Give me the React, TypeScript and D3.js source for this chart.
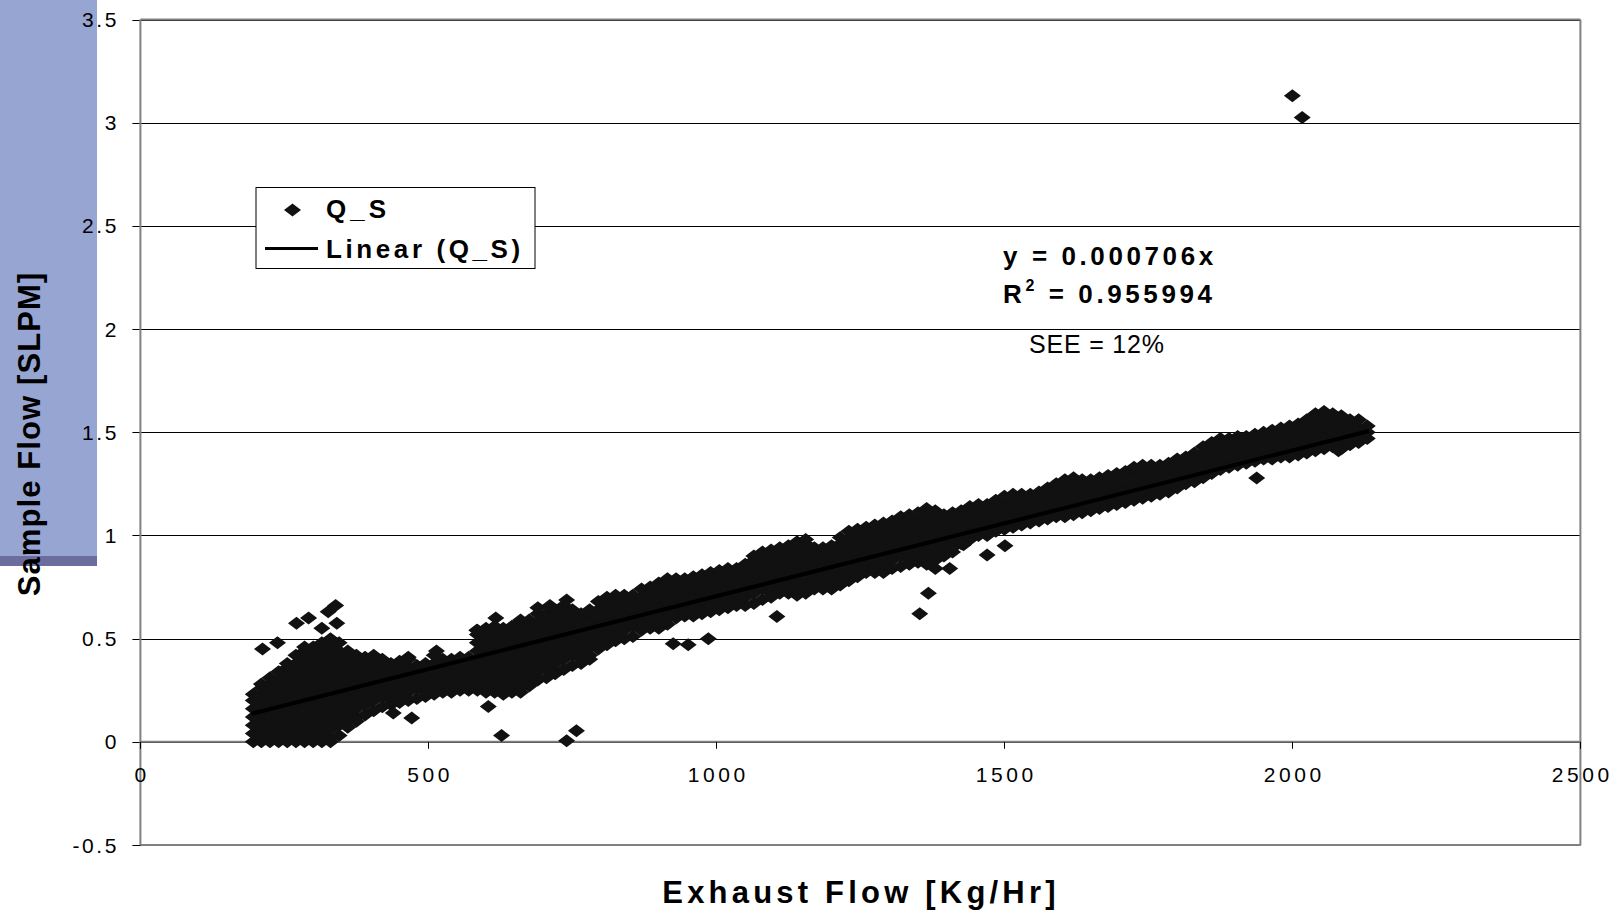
import React from 'react';
import * as d3 from 'd3';

const X_TICKS = [0, 500, 1000, 1500, 2000, 2500];
const X_TICK_LABELS = ['0', '500', '1000', '1500', '2000', '2500'];
const Y_TICKS = [-0.5, 0, 0.5, 1, 1.5, 2, 2.5, 3, 3.5];
const Y_TICK_LABELS = ['-0.5', '0', '0.5', '1', '1.5', '2', '2.5', '3', '3.5'];

// Q_S scatter: dense band, read column by column (exhaust flow, sample flows)
const QS_BAND: [number, number[]][] = [
  [196, [0, 0.04, 0.08, 0.12, 0.16, 0.2, 0.23]],
  [210, [0, 0.02, 0.06, 0.1, 0.14, 0.18, 0.22, 0.26, 0.28]],
  [225, [0, 0.04, 0.08, 0.12, 0.16, 0.2, 0.24, 0.28, 0.31]],
  [240, [0, 0.02, 0.06, 0.1, 0.14, 0.18, 0.22, 0.26, 0.3, 0.34]],
  [255, [0, 0.04, 0.08, 0.12, 0.16, 0.2, 0.24, 0.28, 0.32, 0.36, 0.38]],
  [270, [0, 0.02, 0.06, 0.1, 0.14, 0.18, 0.22, 0.26, 0.3, 0.34, 0.38, 0.42]],
  [285, [0, 0.04, 0.08, 0.12, 0.16, 0.2, 0.24, 0.28, 0.32, 0.36, 0.4, 0.44, 0.46]],
  [300, [0, 0.02, 0.06, 0.1, 0.14, 0.18, 0.22, 0.26, 0.3, 0.34, 0.38, 0.42, 0.46]],
  [315, [0, 0.04, 0.08, 0.12, 0.16, 0.2, 0.24, 0.28, 0.32, 0.36, 0.4, 0.44, 0.48]],
  [330, [0, 0.02, 0.06, 0.1, 0.14, 0.18, 0.22, 0.26, 0.3, 0.34, 0.38, 0.42, 0.46, 0.5]],
  [345, [0.03, 0.08, 0.12, 0.16, 0.2, 0.24, 0.28, 0.32, 0.36, 0.4, 0.44, 0.48]],
  [360, [0.07, 0.1, 0.14, 0.18, 0.22, 0.26, 0.3, 0.34, 0.38, 0.42, 0.44]],
  [375, [0.1, 0.12, 0.16, 0.2, 0.24, 0.28, 0.32, 0.36, 0.4, 0.42]],
  [390, [0.13, 0.18, 0.22, 0.26, 0.3, 0.34, 0.38, 0.41]],
  [405, [0.15, 0.2, 0.24, 0.28, 0.32, 0.36, 0.4, 0.42]],
  [420, [0.17, 0.22, 0.26, 0.3, 0.34, 0.38, 0.4]],
  [435, [0.18, 0.2, 0.24, 0.28, 0.32, 0.36, 0.38]],
  [450, [0.19, 0.22, 0.26, 0.3, 0.34, 0.38, 0.39]],
  [465, [0.2, 0.24, 0.28, 0.32, 0.36, 0.4, 0.41]],
  [480, [0.21, 0.26, 0.3, 0.34, 0.37]],
  [495, [0.22, 0.24, 0.28, 0.32, 0.36, 0.38]],
  [510, [0.23, 0.26, 0.3, 0.34, 0.38, 0.42]],
  [525, [0.24, 0.28, 0.32, 0.36, 0.4]],
  [540, [0.24, 0.26, 0.3, 0.34, 0.38, 0.4]],
  [555, [0.25, 0.28, 0.32, 0.36, 0.4, 0.41]],
  [570, [0.25, 0.26, 0.3, 0.34, 0.38, 0.41]],
  [585, [0.25, 0.28, 0.32, 0.36, 0.4, 0.44, 0.48, 0.52, 0.54]],
  [600, [0.24, 0.26, 0.3, 0.34, 0.38, 0.42, 0.46, 0.5, 0.54, 0.55]],
  [615, [0.24, 0.28, 0.32, 0.36, 0.4, 0.44, 0.48, 0.52, 0.56]],
  [630, [0.23, 0.26, 0.3, 0.34, 0.38, 0.42, 0.46, 0.5, 0.54, 0.55]],
  [645, [0.24, 0.28, 0.32, 0.36, 0.4, 0.44, 0.48, 0.52, 0.56]],
  [660, [0.24, 0.26, 0.3, 0.34, 0.38, 0.42, 0.46, 0.5, 0.54, 0.58, 0.59]],
  [675, [0.27, 0.28, 0.32, 0.36, 0.4, 0.44, 0.48, 0.52, 0.56, 0.59]],
  [690, [0.3, 0.34, 0.38, 0.42, 0.46, 0.5, 0.54, 0.58, 0.62, 0.65]],
  [705, [0.31, 0.36, 0.4, 0.44, 0.48, 0.52, 0.56, 0.6, 0.62]],
  [720, [0.33, 0.34, 0.38, 0.42, 0.46, 0.5, 0.54, 0.58, 0.62, 0.64]],
  [735, [0.35, 0.4, 0.44, 0.48, 0.52, 0.56, 0.6, 0.64, 0.66]],
  [750, [0.37, 0.42, 0.46, 0.5, 0.54, 0.58, 0.62, 0.64]],
  [765, [0.38, 0.4, 0.44, 0.48, 0.52, 0.56, 0.6, 0.62]],
  [780, [0.4, 0.42, 0.46, 0.5, 0.54, 0.58, 0.62, 0.64]],
  [795, [0.45, 0.48, 0.52, 0.56, 0.6, 0.64, 0.68]],
  [810, [0.47, 0.5, 0.54, 0.58, 0.62, 0.66, 0.7]],
  [825, [0.49, 0.52, 0.56, 0.6, 0.64, 0.68, 0.71]],
  [840, [0.5, 0.54, 0.58, 0.62, 0.66, 0.7, 0.71]],
  [855, [0.51, 0.56, 0.6, 0.64, 0.68, 0.71]],
  [870, [0.54, 0.58, 0.62, 0.66, 0.7, 0.74]],
  [885, [0.55, 0.56, 0.6, 0.64, 0.68, 0.72, 0.75]],
  [900, [0.55, 0.58, 0.62, 0.66, 0.7, 0.74, 0.77]],
  [915, [0.57, 0.6, 0.64, 0.68, 0.72, 0.76, 0.79]],
  [930, [0.6, 0.62, 0.66, 0.7, 0.74, 0.78, 0.79]],
  [945, [0.61, 0.64, 0.68, 0.72, 0.76, 0.79]],
  [960, [0.61, 0.62, 0.66, 0.7, 0.74, 0.78, 0.8]],
  [975, [0.62, 0.64, 0.68, 0.72, 0.76, 0.8, 0.81]],
  [990, [0.63, 0.66, 0.7, 0.74, 0.78, 0.82]],
  [1005, [0.64, 0.68, 0.72, 0.76, 0.8, 0.83]],
  [1020, [0.65, 0.66, 0.7, 0.74, 0.78, 0.82, 0.84]],
  [1035, [0.66, 0.68, 0.72, 0.76, 0.8, 0.84]],
  [1050, [0.66, 0.7, 0.74, 0.78, 0.82, 0.86]],
  [1065, [0.67, 0.72, 0.76, 0.8, 0.84, 0.88, 0.9]],
  [1080, [0.69, 0.74, 0.78, 0.82, 0.86, 0.9, 0.92]],
  [1095, [0.7, 0.72, 0.76, 0.8, 0.84, 0.88, 0.92, 0.93]],
  [1110, [0.72, 0.74, 0.78, 0.82, 0.86, 0.9, 0.94]],
  [1125, [0.72, 0.76, 0.8, 0.84, 0.88, 0.92, 0.95]],
  [1140, [0.71, 0.74, 0.78, 0.82, 0.86, 0.9, 0.94, 0.97]],
  [1155, [0.72, 0.76, 0.8, 0.84, 0.88, 0.92, 0.96, 0.98]],
  [1170, [0.74, 0.78, 0.82, 0.86, 0.9, 0.94]],
  [1185, [0.74, 0.76, 0.8, 0.84, 0.88, 0.92, 0.94]],
  [1200, [0.74, 0.78, 0.82, 0.86, 0.9, 0.94, 0.95]],
  [1215, [0.76, 0.8, 0.84, 0.88, 0.92, 0.96, 0.99]],
  [1230, [0.78, 0.82, 0.86, 0.9, 0.94, 0.98, 1.02]],
  [1245, [0.8, 0.84, 0.88, 0.92, 0.96, 1.0, 1.03]],
  [1260, [0.82, 0.86, 0.9, 0.94, 0.98, 1.02, 1.04]],
  [1275, [0.82, 0.84, 0.88, 0.92, 0.96, 1.0, 1.04, 1.05]],
  [1290, [0.82, 0.86, 0.9, 0.94, 0.98, 1.02, 1.06]],
  [1305, [0.84, 0.88, 0.92, 0.96, 1.0, 1.04, 1.07]],
  [1320, [0.85, 0.9, 0.94, 0.98, 1.02, 1.06, 1.09]],
  [1335, [0.86, 0.88, 0.92, 0.96, 1.0, 1.04, 1.08, 1.1]],
  [1350, [0.87, 0.9, 0.94, 0.98, 1.02, 1.06, 1.1, 1.11]],
  [1365, [0.86, 0.88, 0.92, 0.96, 1.0, 1.04, 1.08, 1.12, 1.13]],
  [1380, [0.88, 0.9, 0.94, 0.98, 1.02, 1.06, 1.1, 1.12]],
  [1395, [0.9, 0.92, 0.96, 1.0, 1.04, 1.08, 1.1]],
  [1410, [0.92, 0.94, 0.98, 1.02, 1.06, 1.1, 1.11]],
  [1425, [0.96, 1.0, 1.04, 1.08, 1.12]],
  [1440, [0.98, 1.02, 1.06, 1.1, 1.14]],
  [1455, [1.0, 1.04, 1.08, 1.12, 1.15]],
  [1470, [1.0, 1.02, 1.06, 1.1, 1.14, 1.15]],
  [1485, [1.02, 1.04, 1.08, 1.12, 1.16, 1.17]],
  [1500, [1.03, 1.06, 1.1, 1.14, 1.18, 1.19]],
  [1515, [1.04, 1.08, 1.12, 1.16, 1.2]],
  [1530, [1.05, 1.06, 1.1, 1.14, 1.18, 1.2]],
  [1545, [1.06, 1.08, 1.12, 1.16, 1.2]],
  [1560, [1.07, 1.1, 1.14, 1.18, 1.21]],
  [1575, [1.08, 1.12, 1.16, 1.2, 1.23]],
  [1590, [1.09, 1.1, 1.14, 1.18, 1.22, 1.25]],
  [1605, [1.09, 1.12, 1.16, 1.2, 1.24, 1.27]],
  [1620, [1.1, 1.14, 1.18, 1.22, 1.26, 1.28]],
  [1635, [1.11, 1.12, 1.16, 1.2, 1.24, 1.27]],
  [1650, [1.12, 1.14, 1.18, 1.22, 1.26, 1.27]],
  [1665, [1.13, 1.16, 1.2, 1.24, 1.28]],
  [1680, [1.14, 1.18, 1.22, 1.26, 1.29]],
  [1695, [1.15, 1.16, 1.2, 1.24, 1.28, 1.3]],
  [1710, [1.16, 1.18, 1.22, 1.26, 1.3, 1.31]],
  [1725, [1.17, 1.2, 1.24, 1.28, 1.32, 1.33]],
  [1740, [1.18, 1.22, 1.26, 1.3, 1.34]],
  [1755, [1.19, 1.2, 1.24, 1.28, 1.32, 1.34]],
  [1770, [1.2, 1.22, 1.26, 1.3, 1.34]],
  [1785, [1.21, 1.24, 1.28, 1.32, 1.35]],
  [1800, [1.23, 1.26, 1.3, 1.34, 1.37]],
  [1815, [1.25, 1.28, 1.32, 1.36, 1.38]],
  [1830, [1.26, 1.3, 1.34, 1.38, 1.4]],
  [1845, [1.28, 1.32, 1.36, 1.4, 1.43]],
  [1860, [1.3, 1.34, 1.38, 1.42, 1.45]],
  [1875, [1.32, 1.36, 1.4, 1.44, 1.47]],
  [1890, [1.33, 1.34, 1.38, 1.42, 1.46, 1.47]],
  [1905, [1.34, 1.36, 1.4, 1.44, 1.48]],
  [1920, [1.35, 1.38, 1.42, 1.46, 1.48]],
  [1935, [1.36, 1.4, 1.44, 1.48, 1.49]],
  [1950, [1.37, 1.38, 1.42, 1.46, 1.5]],
  [1965, [1.37, 1.4, 1.44, 1.48, 1.51]],
  [1980, [1.38, 1.42, 1.46, 1.5, 1.52]],
  [1995, [1.38, 1.4, 1.44, 1.48, 1.52, 1.53]],
  [2010, [1.39, 1.42, 1.46, 1.5, 1.54]],
  [2025, [1.4, 1.44, 1.48, 1.52, 1.56]],
  [2040, [1.41, 1.42, 1.46, 1.5, 1.54, 1.58, 1.59]],
  [2055, [1.42, 1.44, 1.48, 1.52, 1.56, 1.6]],
  [2070, [1.43, 1.46, 1.5, 1.54, 1.58, 1.59]],
  [2085, [1.42, 1.44, 1.48, 1.52, 1.56, 1.58]],
  [2100, [1.44, 1.46, 1.5, 1.54, 1.56]],
  [2115, [1.45, 1.48, 1.52, 1.56]],
  [2130, [1.47, 1.5, 1.53]],
];

// isolated Q_S points outside the band
const QS_OUTLIERS: [number, number][] = [
  [212, 0.45], [238, 0.48], [271, 0.575], [292, 0.6], [315, 0.55], [326, 0.63],
  [339, 0.66], [341, 0.575], [439, 0.14], [471, 0.115], [514, 0.44], [584, 0.54],
  [604, 0.171], [617, 0.6], [627, 0.031], [740, 0.005], [757, 0.053], [740, 0.687],
  [711, 0.66], [925, 0.475], [951, 0.47], [986, 0.5], [1105, 0.607], [1353, 0.62],
  [1368, 0.72], [1380, 0.84], [1405, 0.84], [1429, 0.955], [1470, 0.905], [1501, 0.95],
  [1938, 1.278], [2080, 1.41], [2000, 3.131], [2017, 3.025],
];

// Linear (Q_S): y = 0.000706x, drawn over the data range
const TREND: [number, number][] = [[193, 0.136], [2133, 1.506]];

const FONT = '"Liberation Sans", Arial, Helvetica, sans-serif';
const DIAMOND = 'M0,-6.5L8.5,0L0,6.5L-8.5,0Z';

export default function App() {
  const x = d3.scaleLinear().domain([0, 2500]).range([140.4, 1580.4]);
  const y = d3.scaleLinear().domain([-0.5, 3.5]).range([845, 19.5]);

  const points: [number, number][] = [];
  QS_BAND.forEach(([cx, ys]) => ys.forEach((v) => points.push([cx, v])));
  QS_OUTLIERS.forEach((p) => points.push(p));

  const line = d3
    .line<[number, number]>()
    .x((d) => x(d[0]))
    .y((d) => y(d[1]));

  const left = x(0);
  const right = x(2500);
  const top = y(3.5);
  const bottom = y(-0.5);
  const zeroY = y(0);

  return (
    <svg
      width={1614}
      height={911}
      style={{ position: 'absolute', left: 0, top: 0, background: '#fff' }}
      fontFamily={FONT}
    >
      <rect x={0} y={0} width={1614} height={911} fill="#fff" />
      {/* decorative blue panel on the left */}
      <rect x={0} y={0} width={97} height={566} fill="#97A5D2" />
      <rect x={0} y={556} width={97} height={10} fill="#6C6C9E" />

      {/* gridlines and y ticks */}
      {Y_TICKS.map((t) => (
        <line
          key={'g' + t}
          x1={left - 8}
          x2={right}
          y1={Math.round(y(t)) + 0.5}
          y2={Math.round(y(t)) + 0.5}
          stroke="#000"
          strokeWidth={1}
        />
      ))}

      {/* plot border */}
      <line x1={left} x2={right} y1={top} y2={top} stroke="#808080" strokeWidth={2} />
      <line x1={left} x2={right} y1={bottom} y2={bottom} stroke="#808080" strokeWidth={2} />
      <line x1={right} x2={right} y1={top} y2={bottom} stroke="#808080" strokeWidth={2} />
      <line x1={left} x2={left} y1={top} y2={bottom} stroke="#808080" strokeWidth={2} />
      <line x1={left} x2={right} y1={zeroY} y2={zeroY} stroke="#808080" strokeWidth={2} />

      {/* x ticks on the zero line */}
      {X_TICKS.map((t) => (
        <line
          key={'xt' + t}
          x1={Math.round(x(t)) + 0.5}
          x2={Math.round(x(t)) + 0.5}
          y1={zeroY}
          y2={zeroY + 7}
          stroke="#000"
          strokeWidth={1}
        />
      ))}

      {/* data */}
      <g fill="#111">
        {points.map((p, i) => (
          <path key={i} d={DIAMOND} transform={`translate(${x(p[0])},${y(p[1])})`} />
        ))}
      </g>
      <path d={line(TREND) || ''} stroke="#000" strokeWidth={4} fill="none" />

      {/* y tick labels */}
      {Y_TICKS.map((t, i) => (
        <text
          key={'yl' + t}
          x={119}
          y={y(t) + 7.5}
          fontSize={21}
          letterSpacing={2.6}
          textAnchor="end"
          fill="#000"
        >
          {Y_TICK_LABELS[i]}
        </text>
      ))}

      {/* x tick labels */}
      {X_TICKS.map((t, i) => (
        <text
          key={'xl' + t}
          x={x(t) + 1.8}
          y={782}
          fontSize={21}
          letterSpacing={3.6}
          textAnchor="middle"
          fill="#000"
        >
          {X_TICK_LABELS[i]}
        </text>
      ))}

      {/* axis titles */}
      <text
        x={861}
        y={903}
        fontSize={31}
        fontWeight="bold"
        letterSpacing={4.2}
        textAnchor="middle"
        fill="#000"
      >
        Exhaust Flow [Kg/Hr]
      </text>
      <text
        transform="translate(40,434) rotate(-90)"
        fontSize={31}
        fontWeight="bold"
        letterSpacing={1.1}
        textAnchor="middle"
        fill="#000"
      >
        Sample Flow [SLPM]
      </text>

      {/* legend */}
      <rect x={256} y={187.5} width={279} height={81} fill="#fff" stroke="#000" strokeWidth={1} />
      <path d={DIAMOND} transform="translate(292.5,210)" fill="#111" />
      <text x={326} y={218} fontSize={26} fontWeight="bold" letterSpacing={4} fill="#000">
        Q_S
      </text>
      <line x1={265} x2={318} y1={248.5} y2={248.5} stroke="#000" strokeWidth={3} />
      <text x={326} y={258} fontSize={26} fontWeight="bold" letterSpacing={3.6} fill="#000">
        Linear (Q_S)
      </text>

      {/* regression annotation */}
      <text x={1003} y={265} fontSize={26} fontWeight="bold" letterSpacing={3.6} fill="#000">
        y = 0.000706x
      </text>
      <text x={1003} y={303} fontSize={26} fontWeight="bold" letterSpacing={3.6} fill="#000">
        R
        <tspan dy={-12} fontSize={16}>
          2
        </tspan>
        <tspan dy={12}> = 0.955994</tspan>
      </text>
      <text x={1029} y={353} fontSize={25} letterSpacing={0.8} fill="#000">
        SEE = 12%
      </text>
    </svg>
  );
}
